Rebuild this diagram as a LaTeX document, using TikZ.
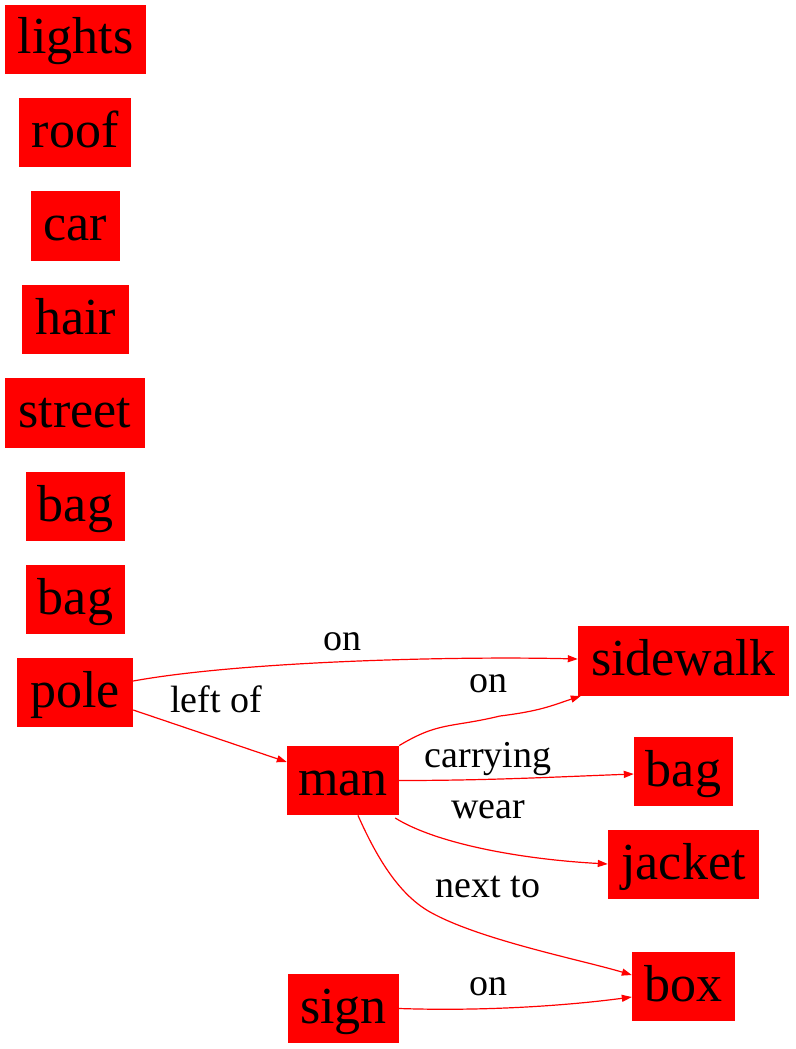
\documentclass[tikz,border=0pt]{standalone}
\usepackage{fontspec}
\setmainfont{Liberation Serif}
\usetikzlibrary{arrows.meta}
\begin{document}
\begin{tikzpicture}[x=1pt,y=-1pt,
  obj/.style={fill=red,draw=none,inner sep=0pt,minimum height=69.5pt,
    font=\rmfamily\fontsize{52}{60}\selectfont,text height=40pt,text depth=11pt,align=center},
  rel/.style={draw=red,line width=1.2pt,-{Triangle[length=10pt,width=7pt]}},
  lab/.style={font=\rmfamily\fontsize{38}{44}\selectfont,anchor=base,inner sep=0pt}]
\useasboundingbox (0,0) rectangle (795,1049);
\node[obj,minimum width=141pt] (lights) at (75.5,39.5) {lights};
\node[obj,minimum width=112pt] (roof) at (75,132.5) {roof};
\node[obj,minimum width=89pt] (car) at (75.5,226) {car};
\node[obj,minimum width=107pt] (hair) at (75.5,319.5) {hair};
\node[obj,minimum width=140pt] (street) at (75,413) {street};
\node[obj,minimum width=99pt] (bag1) at (75.5,506.5) {bag};
\node[obj,minimum width=99pt] (bag2) at (75.5,599.5) {bag};
\node[obj,minimum width=116pt] (pole) at (75,692.5) {pole};
\node[obj,minimum width=112pt] (man) at (343,780.5) {man};
\node[obj,minimum width=211pt] (sidewalk) at (683.5,661) {sidewalk};
\node[obj,minimum width=99pt] (bag3) at (683.5,771.5) {bag};
\node[obj,minimum width=151pt] (jacket) at (683.5,864.5) {jacket};
\node[obj,minimum width=103pt] (box) at (683.5,986.5) {box};
\node[obj,minimum width=111pt] (sign) at (343.5,1008.5) {sign};

\draw[rel] ([yshift=11.5pt]pole.east) .. controls +(110,-20) and +(-120,-3) .. ([yshift=2pt]sidewalk.west);
\draw[rel] ([yshift=-17.5pt]pole.east) -- ([yshift=18.5pt]man.west);
\draw[rel] (man.north east) .. controls +(40,-24) and +(-50,12) .. (500,716) .. controls +(40,-5) and +(-30,10) .. ([xshift=3pt]sidewalk.south west);
\draw[rel] (man.east) .. controls +(90,0) and +(-80,3) .. ([yshift=-2.5pt]bag3.west);
\draw[rel] ([xshift=-4pt,yshift=-37.5pt]man.east) .. controls +(40,25) and +(-90,-5) .. ([yshift=0.5pt]jacket.west);
\draw[rel] ([xshift=15pt]man.south) .. controls +(20,45) and +(-30,-17) .. (430,912) .. controls +(50,28) and +(-50,-15) .. ([yshift=11.5pt]box.west);
\draw[rel] (sign.east) .. controls +(90,3) and +(-60,8) .. ([yshift=-10.5pt]box.west);

\node[lab] (l1) at (342,650) {on};
\node[lab] (l2) at (216,712) {left of};
\node[lab] (l3) at (488,692) {on};
\node[lab] (l4) at (488,767) {carrying};
\node[lab] (l5) at (488,818) {wear};
\node[lab] (l6) at (488,897) {next to};
\node[lab] (l7) at (488,995) {on};
\end{tikzpicture}
\end{document}
